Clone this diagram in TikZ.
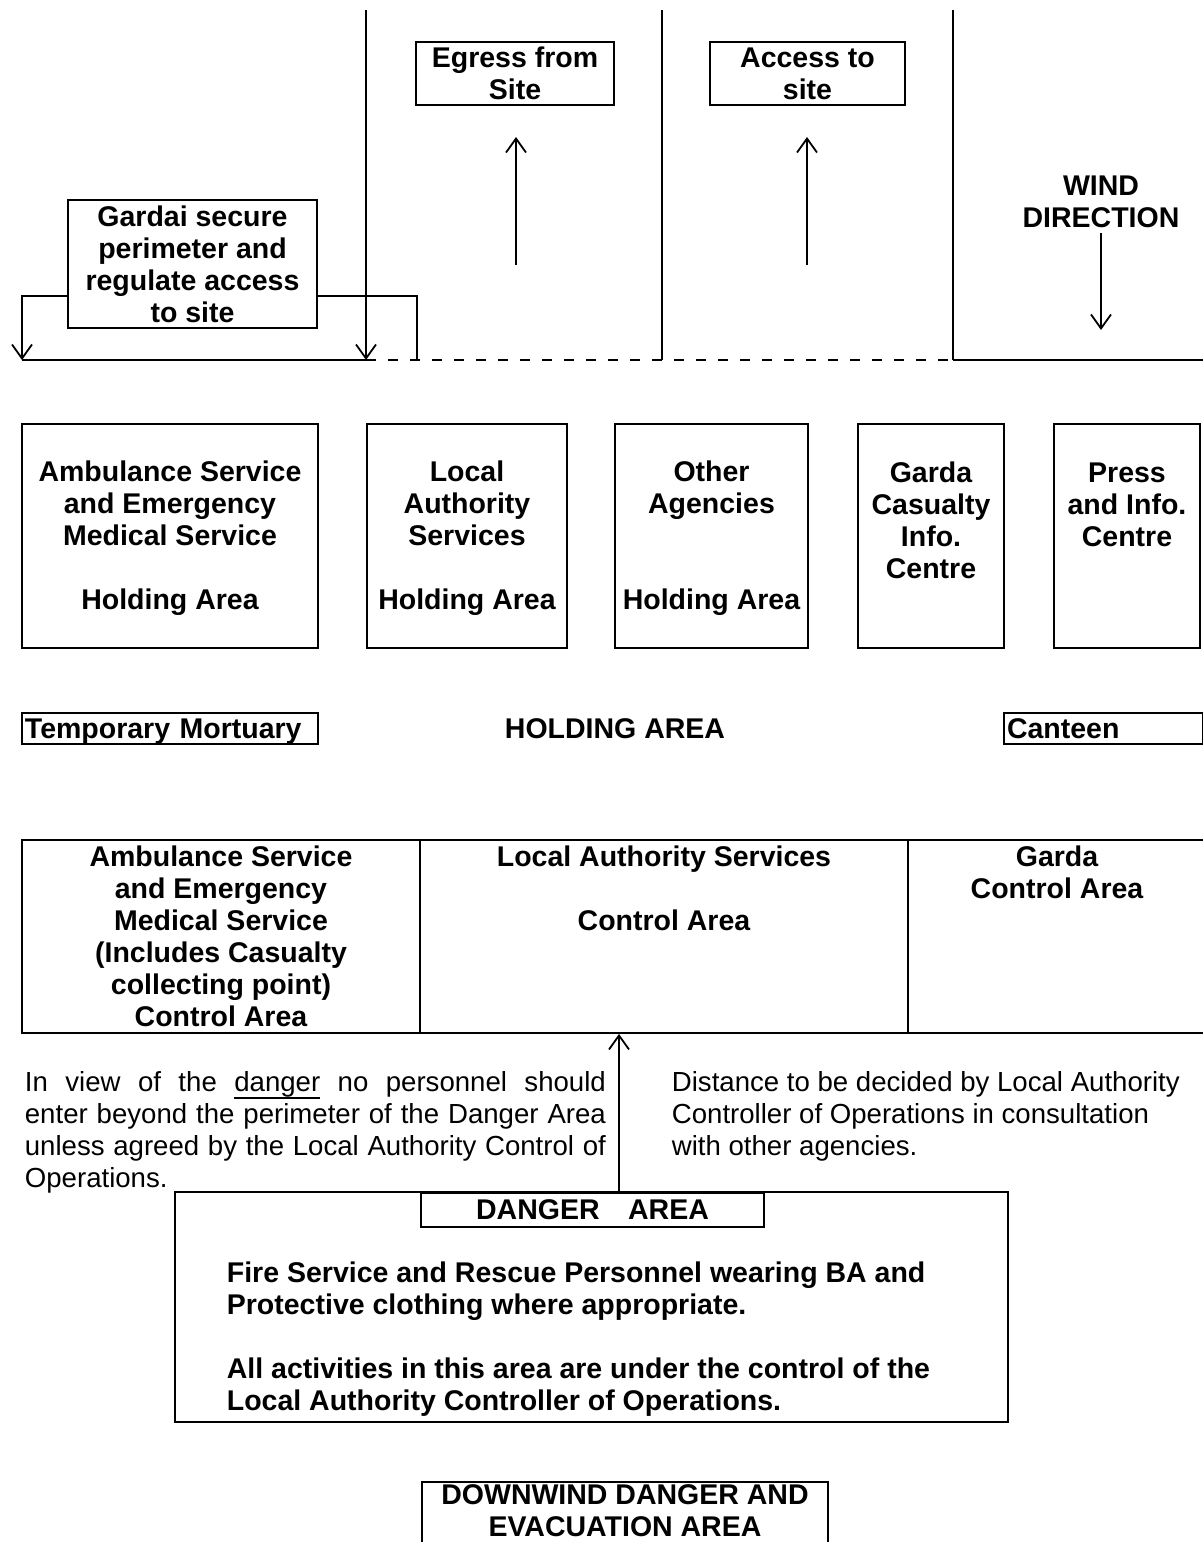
\documentclass[tikz,border=0pt]{standalone}
\usepackage{fontspec}
\setmainfont{Liberation Sans}
\usetikzlibrary{arrows.meta}
\newcommand\zst{\rule[-2.5pt]{0pt}{15pt}}
\newcommand\bxf{\fontsize{14.25pt}{16pt}\selectfont\bfseries\lineskiplimit=-20pt\relax}
\newcommand\rgf{\fontsize{13.8pt}{16pt}\selectfont\lineskiplimit=-20pt\relax}
\newcommand\myul[1]{\setbox0\hbox{#1}\rlap{\rule[-3.6pt]{\wd0}{0.7pt}}\box0\relax}
\begin{document}
\begin{tikzpicture}[x=0.5pt,y=-0.5pt,line width=0.9pt,
  box/.style={draw, inner sep=0pt, align=center, font=\bxf},
  lab/.style={inner sep=0pt, align=center, font=\bxf},
  para/.style={inner sep=0pt, align=left, anchor=west, font=\rgf},
  arr/.style={-{Straight Barb[length=7pt,width=10pt,line width=0.9pt]}},
  dashline/.style={dash pattern=on 5pt off 6pt}]
\useasboundingbox (0,0) rectangle (1203,1542);
\fill[white] (0,0) rectangle (1203,1542);

% top boxes
\node[box, minimum width=99pt, minimum height=31.5pt] (egress) at (515,73.5) {\zst Egress from\\\zst Site};
\node[box, minimum width=97.5pt, minimum height=31.5pt] (access) at (807.5,73.5) {\zst Access to\\\zst site};
\node[lab] (wind) at (1101,201) {\zst WIND\\\zst DIRECTION};
\node[box, minimum width=124.5pt, minimum height=64pt] (gardai) at (192.5,264) {\zst Gardai secure\\\zst perimeter and\\\zst regulate access\\\zst to site};

% vertical lines and perimeter
\coordinate (t1) at (366,10); \coordinate (b1) at (366,360);
\coordinate (t2) at (662,10); \coordinate (b2) at (662,360);
\coordinate (t3) at (953,10); \coordinate (b3) at (953,360);
\coordinate (bl) at (22,360); \coordinate (br) at (417,360); \coordinate (re) at (1203,360);
\draw[arr] (t1) -- (b1);
\draw (t2) -- (b2);
\draw (t3) -- (b3);
\draw (bl) -- (b1);
\draw[dashline] (b1) -- (b3);
\draw (b3) -- (re);
\draw[arr] ([yshift=-16pt]gardai.west) -| (bl);
\draw ([yshift=-16pt]gardai.east) -| (br);

% arrows
\coordinate (ea0) at (516,265); \coordinate (ea1) at (516,137);
\coordinate (aa0) at (807,265); \coordinate (aa1) at (807,137);
\coordinate (wa) at (1101,330);
\draw[arr] (ea0) -- (ea1);
\draw[arr] (aa0) -- (aa1);
\draw[arr] (wind.south) -- (wa);

% holding boxes
\node[box, minimum width=148pt, minimum height=112pt] (h1) at (170,536) {\zst Ambulance Service\\\zst and Emergency\\\zst Medical Service\\\zst\\\zst Holding Area};
\node[box, minimum width=100pt, minimum height=112pt] (h2) at (467,536) {\zst Local\\\zst Authority\\\zst Services\\\zst\\\zst Holding Area};
\node[box, minimum width=96.5pt, minimum height=112pt] (h3) at (711.5,536) {\zst Other\\\zst Agencies\\\zst\\\zst\\\zst Holding Area};
\node[box, minimum width=73pt, minimum height=112pt] (h4) at (931,536) {\zst Garda\\\zst Casualty\\\zst Info.\\\zst Centre\\\zst};
\node[box, minimum width=73pt, minimum height=112pt] (h5) at (1127,536) {\zst Press\\\zst and Info.\\\zst Centre\\\zst\\\zst};

% holding area row
\node[box, minimum width=148pt, minimum height=15.5pt, text width=145pt, inner xsep=1.5pt, align=left] (tm) at (170,728.5) {\zst Temporary Mortuary};
\node[lab] (ha) at (615,728) {\zst HOLDING AREA};
\node[box, minimum width=99.5pt, minimum height=15.5pt, text width=96.5pt, inner xsep=1.5pt, align=left] (ct) at (1103.5,728.5) {\zst Canteen};

% control row
\node[box, minimum width=199pt, minimum height=96.5pt] (c1) at (221,936.5) {\zst Ambulance Service\\\zst and Emergency\\\zst Medical Service\\\zst (Includes Casualty\\\zst collecting point)\\\zst Control Area};
\node[box, minimum width=244pt, minimum height=96.5pt] (c2) at (664,936.5) {\zst Local Authority Services\\\zst\\\zst Control Area\\\zst\\\zst\\\zst};
\node[box, minimum width=149pt, minimum height=96.5pt] (c3) at (1057,936.5) {\zst Garda\\\zst Control Area\\\zst\\\zst\\\zst\\\zst};

% paragraphs
\node[para] (p1) at (24,1130) {\zst\makebox[290.5pt][s]{In view of the \myul{danger} no personnel should}\\\zst\makebox[290.5pt][s]{enter beyond the perimeter of the Danger Area}\\\zst\makebox[290.5pt][s]{unless agreed by the Local Authority Control of}\\\zst Operations.};
\node[para] (p2) at (671,1114) {\zst Distance to be decided by Local Authority\\\zst Controller of Operations in consultation\\\zst with other agencies.};

% danger area
\node[draw, inner sep=0pt, minimum width=416.5pt, minimum height=115pt] (danger) at (591.5,1307) {};
\node[box, minimum width=171.5pt, minimum height=17pt, anchor=north] (dlabel) at (592.5,1192) {\zst DANGER\quad AREA};
\node[lab, align=left, anchor=west] (dtext) at (226,1337) {\zst Fire Service and Rescue Personnel wearing BA and\\\zst Protective clothing where appropriate.\\\zst\\\zst All activities in this area are under the control of the\\\zst Local Authority Controller of Operations.};
\coordinate (ua) at (619,1192);
\draw[arr] (ua) -- (ua |- c2.south);

% downwind
\node[draw, inner sep=0pt, minimum width=203pt, minimum height=35pt] (down) at (625,1517) {};
\node[lab] (downtext) at (625,1510) {\zst DOWNWIND DANGER AND\\\zst EVACUATION AREA};
\end{tikzpicture}
\end{document}
